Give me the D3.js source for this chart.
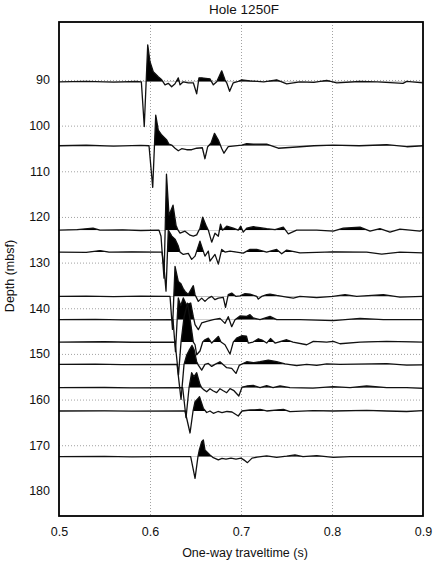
<!DOCTYPE html>
<html>
<head>
<meta charset="utf-8">
<script src="https://cdn.jsdelivr.net/npm/d3@7"></script>
<style>
  body { margin: 0; background: #fff; }
  svg { display: block; }
</style>
</head>
<body>
<div id="chart"></div>
<script>
"use strict";

// Receiver depths (mbsf) of each trace, top to bottom
const depths = [90.4, 104.4, 122.9, 127.7, 137.4, 142.5, 147.4, 152.3, 157.4, 162.5, 172.5];

// Wiggle traces: [one-way time (s), amplitude], positive = up (filled black)
const trace_090 = [[0.500, 0], [0.530, 0.5], [0.560, -0.3], [0.585, 0.3], [0.5905, 0], [0.5937, -44.7], [0.5975, 37], [0.6000, 20],
    [0.6036, 10], [0.6091, 5], [0.6129, 2], [0.6165, -3], [0.6201, -1.5], [0.6238, -5], [0.6275, -2], [0.6311, 4], [0.6330, -3],
    [0.6366, 0], [0.6421, -1], [0.6476, -1], [0.6513, -12], [0.6538, 4], [0.6568, 4], [0.6659, 3], [0.6696, -3], [0.6733, 0],
    [0.6788, 11], [0.6824, 2], [0.6843, -1], [0.6875, -9.5], [0.6915, -1], [0.6970, 0.5], [0.7008, 2], [0.7099, 1], [0.7250, 0],
    [0.7392, 2], [0.7502, -2], [0.7648, 0], [0.7800, -0.5], [0.7942, 1.5], [0.8052, -1], [0.8300, 0.3], [0.8500, 0], [0.8780, -1.5],
    [0.8821, 0.5], [0.9000, -1]];
const trace_104 = [[0.500, 0], [0.530, 0.5], [0.560, -0.3], [0.590, 0.3], [0.5989, 0], [0.6030, -41.6], [0.6063, 30.7], [0.6091, 15.7],
    [0.6129, 10.7], [0.6184, 5.7], [0.6209, 1.5], [0.6238, 0.7], [0.6275, -2.5], [0.6311, -5], [0.6348, -3], [0.6403, -4],
    [0.6458, -4], [0.6513, -2.5], [0.6575, -2], [0.6604, -13], [0.6634, -1], [0.6670, 2.5], [0.6709, 12.4], [0.6751, 5.7],
    [0.6788, -2.7], [0.6813, -7.5], [0.6860, -1], [0.7008, 0.5], [0.7063, 2], [0.7135, 1.5], [0.7282, 1.7], [0.7410, -2.5],
    [0.7648, -1], [0.7800, 0], [0.8011, 0.7], [0.8300, 0], [0.8601, 1], [0.8821, -1], [0.9000, 0]];
const trace_123 = [[0.500, 0], [0.520, 0.6], [0.5374, 2], [0.545, 0], [0.570, 0.4], [0.590, -0.3], [0.6099, 0], [0.6121, -6],
    [0.6154, -48], [0.6181, 56], [0.6209, 15], [0.6253, 25], [0.6286, 5], [0.6308, 0], [0.6330, -3], [0.6385, -1], [0.6440, -5],
    [0.6476, -6], [0.6513, -4.7], [0.6549, 2], [0.6579, 13], [0.6615, 5], [0.6641, 0], [0.6678, -12], [0.6714, -3], [0.6751, -6],
    [0.6775, 6], [0.6797, 0], [0.6843, 4], [0.6915, 2], [0.6970, 0], [0.6997, 4], [0.7025, -2], [0.7063, 2], [0.7135, 3.5],
    [0.7209, 2.5], [0.7282, 1.5], [0.7374, 0.5], [0.7465, 3], [0.7520, -3.7], [0.7612, 0], [0.7832, 0], [0.8014, -1], [0.8124, 2],
    [0.8308, 3], [0.8418, -1], [0.8527, 1.5], [0.8637, -2], [0.8747, 1], [0.8967, -1], [0.9000, 0.7]];
const trace_128 = [[0.500, 0], [0.530, -0.3], [0.5451, 1.5], [0.555, 0], [0.580, 0.3], [0.6132, 0], [0.6154, -15], [0.6176, -39],
    [0.6201, 22], [0.6240, 16], [0.6275, 13], [0.6311, 6], [0.6330, 0], [0.6366, -2.3], [0.6421, -1.3], [0.6458, -7.3],
    [0.6495, -4], [0.6513, 1], [0.6549, 11], [0.6579, 2.7], [0.6604, -4], [0.6641, 1], [0.6659, -9], [0.6714, -2.3],
    [0.6751, -12], [0.6788, 2.7], [0.6824, 0], [0.6879, 1], [0.7025, -1], [0.7099, 2.7], [0.7173, 2.7], [0.7282, 0],
    [0.7392, 2.7], [0.7447, -1.7], [0.7502, 2], [0.7648, -0.7], [0.8014, 0.3], [0.8381, 0], [0.8546, -2], [0.8747, 0],
    [0.9000, -0.7]];
const trace_137 = [[0.500, 0], [0.530, 0.3], [0.560, -0.3], [0.590, 0.2], [0.6220, 0], [0.6247, -33], [0.6275, 30], [0.6311, 15],
    [0.6337, 13], [0.6363, 8], [0.6385, 5], [0.6421, 2], [0.6476, 10.7], [0.6495, 1.7], [0.6531, -5], [0.6568, -1.7], [0.6604, -5],
    [0.6641, -1.7], [0.6678, 0], [0.6714, -3.3], [0.6751, -1.7], [0.6805, -1], [0.6830, -11], [0.6860, 1.7], [0.6898, 3.3],
    [0.6945, 0], [0.6989, 0.5], [0.7044, 2.7], [0.7099, 2.3], [0.7173, 0], [0.7190, -2.7], [0.7227, 0], [0.7282, 1.7],
    [0.7319, 2.3], [0.7392, 1], [0.7502, -0.7], [0.7575, -1.7], [0.7648, 0], [0.7832, -1.3], [0.8011, 0], [0.8143, 1.7],
    [0.8271, 0], [0.8564, 1.7], [0.8747, -0.7], [0.9000, 0]];
const trace_143 = [[0.500, 0], [0.540, 0.3], [0.570, -0.2], [0.6253, 0], [0.6280, -32], [0.6311, 21.7], [0.6337, 14], [0.6366, 21.7],
    [0.6401, 15], [0.6447, 16.7], [0.6476, 3], [0.6495, -5], [0.6531, -10], [0.6568, -3.3], [0.6623, -1.7], [0.6696, 0],
    [0.6769, 1.3], [0.6824, -3.7], [0.6860, 3], [0.6898, -7], [0.6934, 0], [0.6989, 3.7], [0.7063, 3.3], [0.7099, 5],
    [0.7135, 1.7], [0.7209, 0], [0.7319, 3.3], [0.7392, 0], [0.7648, 0], [0.8014, -1], [0.8308, 1.3], [0.8564, 0], [0.9000, 0]];
const trace_147 = [[0.500, 0], [0.550, 0.3], [0.580, -0.2], [0.6275, 0], [0.6313, -33], [0.6341, 0], [0.6374, 25], [0.6412, 39],
    [0.6445, 20], [0.6476, 0], [0.6495, -2.7], [0.6513, -12.7], [0.6549, -9], [0.6579, 0], [0.6604, 2.3], [0.6641, 4],
    [0.6678, -1], [0.6714, 2.3], [0.6751, 5.7], [0.6780, 0], [0.6824, -2.7], [0.6879, -12], [0.6915, 0], [0.6952, 4],
    [0.7008, 6.3], [0.7060, 6], [0.7080, -1], [0.7132, 0], [0.7190, 3.3], [0.7231, 2], [0.7282, -1], [0.7324, 3.5],
    [0.7374, -1], [0.7502, 2.3], [0.7571, 0], [0.7722, -2.7], [0.7795, 0.7], [0.7942, 0], [0.8014, 0.7], [0.8088, -1.7],
    [0.8308, 0], [0.8601, 0.7], [0.9000, 0]];
const trace_152 = [[0.500, 0], [0.540, 0.3], [0.570, -0.2], [0.6297, 0], [0.6341, -35], [0.6374, 0], [0.6403, 9.3], [0.6429, 14],
    [0.6462, 19], [0.6484, 15], [0.6513, 2.7], [0.6531, -0.7], [0.6568, -5.7], [0.6604, 0], [0.6641, 1], [0.6678, -2],
    [0.6714, 0], [0.6769, 2.7], [0.6843, -3.3], [0.6898, -4], [0.6945, -9], [0.6980, -1], [0.7063, 2.7], [0.7135, 1.7],
    [0.7209, 2.7], [0.7300, 4.3], [0.7392, 2.7], [0.7484, 0.5], [0.7612, -1.3], [0.7722, 0], [0.7832, -1], [0.7942, 0.5],
    [0.8088, 0], [0.8601, 0.7], [0.8821, -0.7], [0.9000, -0.5]];
const trace_157 = [[0.500, 0], [0.550, 0.2], [0.580, -0.2], [0.6359, 0], [0.6396, -30], [0.6429, 0], [0.6458, 15], [0.6484, 11],
    [0.6513, 15], [0.6549, 3.3], [0.6568, 0], [0.6586, -1.7], [0.6623, -4], [0.6659, -1], [0.6696, -3.3], [0.6733, -5],
    [0.6769, -1], [0.6805, -3], [0.6843, -5], [0.6879, -1], [0.6923, -3], [0.6976, -8.3], [0.7011, 0.5], [0.7063, 1.7],
    [0.7135, 2.3], [0.7209, 0], [0.7282, 2], [0.7352, 0], [0.7429, 1.7], [0.7538, 0], [0.7791, -0.5], [0.8014, 1], [0.8198, 0],
    [0.8381, 1.7], [0.8601, 0], [0.8821, 0], [0.9000, -0.7]];
const trace_163 = [[0.500, 0], [0.550, 0.2], [0.580, -0.2], [0.6385, 0], [0.6440, -22], [0.6473, 0], [0.6495, 9.3], [0.6531, 12.7],
    [0.6544, 14.3], [0.6586, 2.7], [0.6623, -1.5], [0.6659, 0], [0.6696, -2.3], [0.6747, -0.5], [0.6791, -1.7], [0.6846, -0.5],
    [0.6901, -1], [0.6970, -5], [0.7011, 0], [0.7099, 1], [0.7154, 1.2], [0.7209, 1.7], [0.7282, 0], [0.7465, 1.7],
    [0.7538, -0.7], [0.7795, 0.3], [0.8014, 0], [0.8381, 0.7], [0.8601, 0], [0.8821, -0.5], [0.9000, 0.3]];
const trace_173 = [[0.500, 0], [0.550, 0.3], [0.580, -0.3], [0.610, 0], [0.6447, 0], [0.6495, -21.7], [0.6527, 0], [0.6542, 6.7],
    [0.6568, 15], [0.6586, 16.7], [0.6604, 6.7], [0.6623, 5], [0.6659, 1.7], [0.6689, -0.7], [0.6714, -1.7], [0.6751, -3.3],
    [0.6791, -1.7], [0.6835, -2.5], [0.6890, -1.5], [0.6945, -2.5], [0.7000, -1.5], [0.7044, -4], [0.7071, -6], [0.7121, -1.5],
    [0.7176, -0.5], [0.7282, 0.7], [0.7392, -0.7], [0.7502, 0.5], [0.7593, 1.7], [0.7681, 0], [0.7832, 1], [0.8014, -0.7],
    [0.8198, 0], [0.8601, 0], [0.9000, 0]];

const traces = [trace_090, trace_104, trace_123, trace_128, trace_137, trace_143,
                trace_147, trace_152, trace_157, trace_163, trace_173];

const xTicks = [0.5, 0.6, 0.7, 0.8, 0.9];
const yTicks = [90, 100, 110, 120, 130, 140, 150, 160, 170, 180];
const yGrid = [90, 100, 110, 120, 130, 140, 150, 160, 170];

let font_sans_serif = "'Liberation Sans', Arial, Helvetica, sans-serif";

const width = 437, height = 563;
const margin = {top: 22, right: 14, bottom: 47, left: 59};

// amplitude unit -> metres of depth on the display
const ampGain = 0.219;

const x = d3.scaleLinear([0.5, 0.9], [margin.left, width - margin.right]);
const y = d3.scaleLinear([77.3, 185.5], [margin.top, height - margin.bottom]);

const svg = d3.select("#chart")
    .append("svg")
    .attr("width", width)
    .attr("height", height)
    .style("font-family", font_sans_serif);

// grid
svg.append("g")
    .attr("transform", `translate(0,${margin.top})`)
    .call(d3.axisTop(x).tickValues(xTicks.slice(1, -1)).tickSize(-(height - margin.bottom - margin.top)).tickFormat(""))
    .call(g => g.select(".domain").remove())
    .call(g => g.selectAll("line").attr("stroke", "#8a8a8a").attr("stroke-width", 0.8).attr("stroke-dasharray", "1,2"));

svg.append("g")
    .attr("transform", `translate(${margin.left},0)`)
    .call(d3.axisLeft(y).tickValues(yGrid).tickSize(-(width - margin.right - margin.left)).tickFormat(""))
    .call(g => g.select(".domain").remove())
    .call(g => g.selectAll("line").attr("stroke", "#8a8a8a").attr("stroke-width", 0.8).attr("stroke-dasharray", "1,2"));

// traces
const defs = svg.append("defs");
const gTr = svg.append("g");

traces.forEach((tr, i) => {
    const d0 = depths[i];
    const yOf = a => y(d0 - a * ampGain);

    defs.append("clipPath")
        .attr("id", "pos" + i)
      .append("rect")
        .attr("x", x(0.5))
        .attr("y", 0)
        .attr("width", x(0.9) - x(0.5))
        .attr("height", y(d0));

    const area = d3.area()
        .x(d => x(d[0]))
        .y0(y(d0))
        .y1(d => yOf(d[1]));

    const line = d3.line()
        .x(d => x(d[0]))
        .y(d => yOf(d[1]));

    gTr.append("path")
        .attr("d", area(tr))
        .attr("fill", "#000")
        .attr("clip-path", `url(#pos${i})`);

    gTr.append("path")
        .attr("d", line(tr))
        .attr("fill", "none")
        .attr("stroke", "#111")
        .attr("stroke-width", 1.3)
        .attr("stroke-linejoin", "round");
});

// frame
svg.append("rect")
    .attr("x", x(0.5))
    .attr("y", y.range()[0])
    .attr("width", x(0.9) - x(0.5))
    .attr("height", y.range()[1] - y.range()[0])
    .attr("fill", "none")
    .attr("stroke", "#000")
    .attr("stroke-width", 1.8);

// tick labels
svg.append("g")
    .attr("transform", `translate(0,${height - margin.bottom})`)
    .call(d3.axisBottom(x).tickValues(xTicks).tickSize(0).tickPadding(11).tickFormat(d3.format(".1f")))
    .call(g => g.select(".domain").remove())
    .call(g => g.selectAll("text").attr("font-size", 12.5).attr("fill", "#111").style("font-family", font_sans_serif));

svg.append("g")
    .attr("transform", `translate(${margin.left},0)`)
    .call(d3.axisLeft(y).tickValues(yTicks).tickSize(0).tickPadding(9))
    .call(g => g.select(".domain").remove())
    .call(g => g.selectAll("text").attr("font-size", 12.5).attr("fill", "#111").style("font-family", font_sans_serif));

// titles
svg.append("text")
    .attr("x", 244)
    .attr("y", 14)
    .attr("text-anchor", "middle")
    .attr("font-size", 13.5)
    .attr("fill", "#111")
    .text("Hole 1250F");

svg.append("text")
    .attr("x", 245)
    .attr("y", 557)
    .attr("text-anchor", "middle")
    .attr("font-size", 12.5)
    .attr("fill", "#111")
    .text("One-way traveltime (s)");

svg.append("text")
    .attr("transform", "translate(14,276) rotate(-90)")
    .attr("text-anchor", "middle")
    .attr("font-size", 12.5)
    .attr("fill", "#111")
    .text("Depth (mbsf)");
</script>
</body>
</html>
